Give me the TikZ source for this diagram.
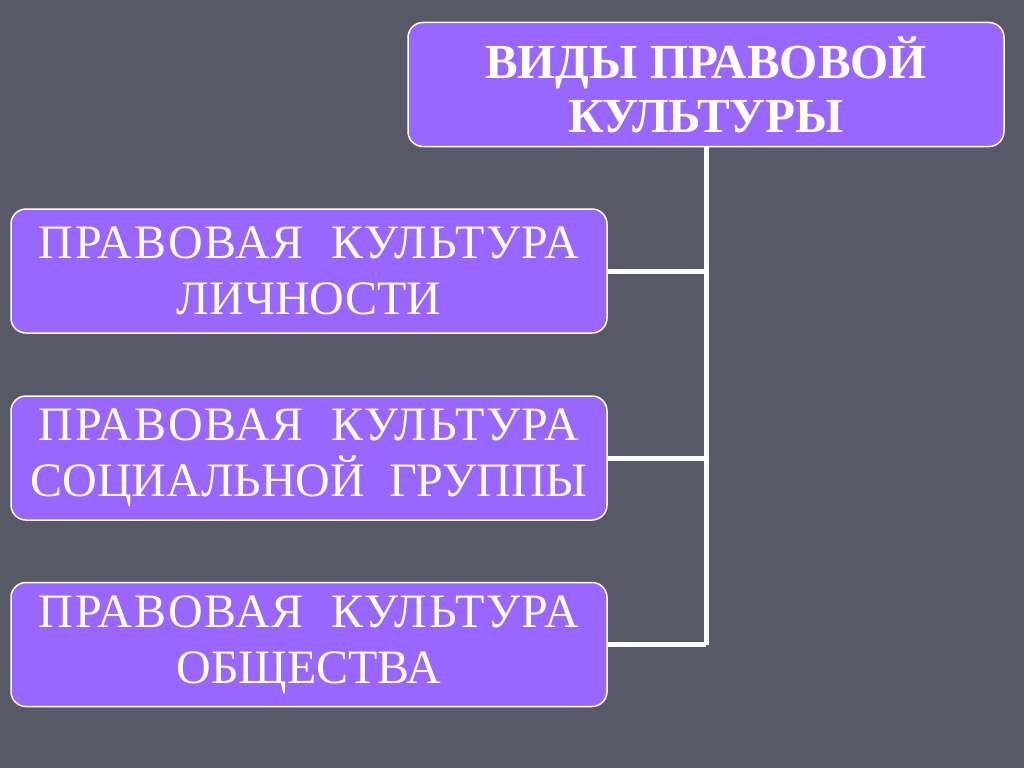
\documentclass[tikz,border=0pt]{standalone}
\usepackage{fontspec}
\setmainfont{Liberation Serif}
\definecolor{bg}{HTML}{575A66}
\definecolor{boxfill}{HTML}{9966FF}
\newcommand{\spaced}[1]{{\addfontfeature{LetterSpace=3.8}#1}}
\begin{document}
\begin{tikzpicture}[x=1pt,y=-1pt,
  box/.style={draw=white, line width=1.5pt, fill=boxfill, rounded corners=15pt,
    minimum width=596pt, minimum height=124pt, inner sep=0pt, align=center,
    text=white, font=\fontsize{48}{56}\selectfont},
  title/.style={box, font=\fontsize{49}{54}\selectfont\bfseries},
  link/.style={draw=white, line width=5pt}]
\fill[bg] (0,0) rectangle (1024,768);
\useasboundingbox (0,0) rectangle (1024,768);
\node[title] (t) at (706,84.5) {ВИДЫ ПРАВОВОЙ\\КУЛЬТУРЫ};
\node[box] (a) at (309,271) {\spaced{ПРАВОВАЯ\ \ КУЛЬТУРА}\\ЛИЧНОСТИ};
\node[box] (b) at (309,458) {\spaced{ПРАВОВАЯ\ \ КУЛЬТУРА}\\СОЦИАЛЬНОЙ\ \ ГРУППЫ};
\node[box] (c) at (309,644.5) {\spaced{ПРАВОВАЯ\ \ КУЛЬТУРА}\\ОБЩЕСТВА};
\coordinate (j) at (706,644.5);
\draw[link] (t.south) -- (j);
\draw[link] (a.east) -- (a.east -| j);
\draw[link] (b.east) -- (b.east -| j);
\draw[link] (c.east) -- (j);
\end{tikzpicture}
\end{document}
